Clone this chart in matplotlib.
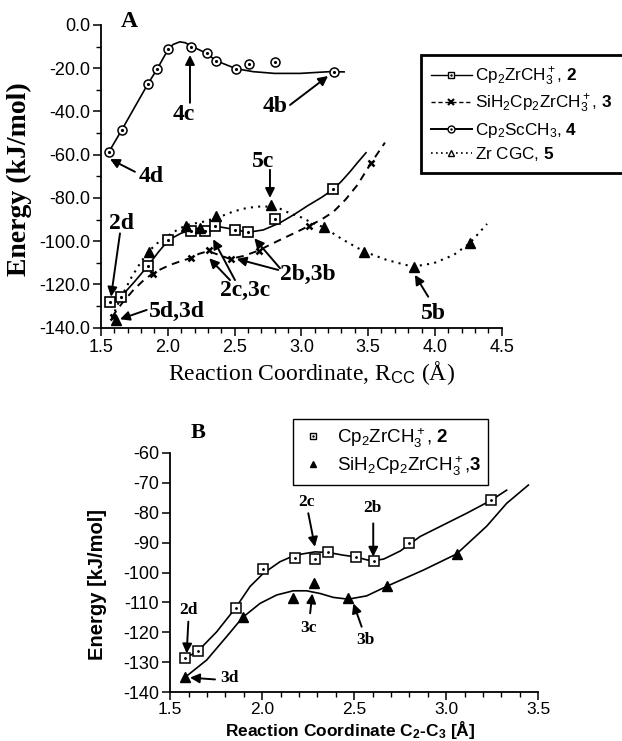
import matplotlib.pyplot as plt
from matplotlib.lines import Line2D
from matplotlib.ticker import MultipleLocator, FormatStrFormatter

plt.rcParams['font.family'] = ['Liberation Sans', 'DejaVu Sans']
plt.rcParams['mathtext.fontset'] = 'custom'
plt.rcParams['mathtext.rm'] = 'Liberation Sans'
plt.rcParams['mathtext.sf'] = 'Liberation Sans'
plt.rcParams['mathtext.it'] = 'Liberation Sans:italic'
plt.rcParams['mathtext.bf'] = 'Liberation Sans:bold'
plt.rcParams['axes.unicode_minus'] = False

SERIF = 'Liberation Serif'

# ---- panel A: computed points ----
sc_x = [1.56, 1.655, 1.85, 1.92, 2.0, 2.175, 2.29, 2.36, 2.51, 2.61, 2.805, 3.246]
sc_y = [-58.6, -48.6, -27.4, -20.4, -11.1, -10.2, -13.1, -16.5, -20.2, -17.9, -17.1, -21.9]

zr_x = [1.57, 1.65, 1.85, 2.005, 2.17, 2.28, 2.355, 2.50, 2.60, 2.80, 3.24]
zr_y = [-128.3, -125.7, -111.5, -99.3, -95.2, -95.2, -93.2, -94.6, -95.9, -89.7, -76.0]

si_x = [1.59, 1.89, 2.17, 2.305, 2.47, 2.68, 3.055, 3.52]
si_y = [-134.9, -115.0, -107.9, -104.1, -108.2, -104.4, -93.0, -64.0]

cgc_x = [1.61, 1.86, 2.14, 2.24, 2.36, 2.77, 3.17, 3.47, 3.84, 4.26]
cgc_y = [-136.4, -104.8, -92.8, -94.0, -88.3, -83.3, -93.3, -104.8, -111.8, -101.0]

# ---- panel A: fitted curves as drawn in the figure ----
sc_fit_x = [1.56, 1.655, 1.754, 1.85, 1.92, 2.0, 2.04, 2.09, 2.13, 2.174, 2.29, 2.36,
            2.51, 2.64, 2.80, 2.99, 3.21, 3.32]
sc_fit_y = [-58.6, -48.6, -37.8, -27.4, -20.4, -11.6, -9.0, -7.8, -8.2, -9.7, -13.1, -16.5,
            -20.2, -21.6, -22.4, -22.4, -21.6, -21.7]

zr_fit_x = [1.57, 1.65, 1.75, 1.85, 1.93, 2.005, 2.1, 2.2, 2.3, 2.4, 2.5, 2.6, 2.715,
            2.84, 2.95, 3.05, 3.15, 3.24, 3.30, 3.364, 3.42, 3.484]
zr_fit_y = [-128.3, -125.7, -118.8, -111.5, -105.0, -99.5, -96.3, -94.3, -93.4, -93.5,
            -94.6, -95.9, -94.8, -91.5, -87.5, -83.5, -79.8, -76.0, -72.3, -67.9, -63.7, -59.1]

si_fit_x = [1.58, 1.66, 1.742, 1.81, 1.88, 1.95, 2.016, 2.09, 2.166, 2.235, 2.303, 2.38,
            2.466, 2.57, 2.677, 2.77, 2.864, 2.96, 3.055, 3.15, 3.24, 3.33, 3.42, 3.52, 3.626]
si_fit_y = [-135.2, -128.5, -122.6, -118.6, -115.2, -112.9, -111.0, -109.4, -107.9, -105.8,
            -104.6, -106.3, -108.2, -106.8, -104.4, -101.5, -98.7, -95.9, -93.0, -90.0,
            -86.4, -80.8, -74.0, -64.0, -54.4]

cgc_fit_x = [1.58, 1.65, 1.73, 1.80, 1.86, 1.92, 1.99, 2.065, 2.14, 2.266, 2.39, 2.49,
             2.565, 2.665, 2.77, 2.84, 2.915, 3.0, 3.064, 3.164, 3.314, 3.47, 3.64, 3.833,
             3.99, 4.14, 4.26, 4.39]
cgc_fit_y = [-135.5, -126.0, -116.5, -109.5, -104.5, -101.0, -97.9, -95.0, -92.5, -91.0,
             -88.7, -86.3, -85.0, -84.0, -84.0, -85.0, -87.1, -89.0, -91.0, -93.5, -99.4,
             -104.8, -108.7, -111.8, -110.2, -106.4, -101.0, -92.0]

# ---- panel B ----
b_zr_x = [1.58, 1.652, 1.855, 2.005, 2.178, 2.286, 2.359, 2.51, 2.607, 2.80, 3.243]
b_zr_y = [-128.6, -126.1, -111.8, -98.8, -95.3, -95.6, -93.3, -94.8, -96.2, -90.0, -75.9]
b_si_x = [1.58, 1.893, 2.168, 2.283, 2.467, 2.68, 3.056]
b_si_y = [-134.8, -115.0, -108.4, -103.6, -108.4, -104.5, -93.8]

b_zr_fit_x = [1.58, 1.652, 1.752, 1.855, 1.933, 2.005, 2.096, 2.178, 2.286, 2.359, 2.44,
              2.51, 2.57, 2.607, 2.66, 2.75, 2.857, 2.984, 3.111, 3.243, 3.328]
b_zr_fit_y = [-128.7, -126.1, -119.8, -111.8, -104.7, -100.3, -96.4, -94.2, -93.1, -93.3,
              -94.2, -94.8, -95.8, -96.0, -95.5, -92.8, -88.0, -84.1, -80.2, -75.9, -72.5]
b_si_fit_x = [1.57, 1.58, 1.698, 1.806, 1.893, 1.988, 2.078, 2.168, 2.241, 2.314, 2.386,
              2.467, 2.567, 2.68, 2.875, 3.056, 3.22, 3.328, 3.446]
b_si_fit_y = [-135.4, -135.0, -129.2, -121.4, -115.0, -110.3, -107.5, -106.1, -106.1,
              -107.0, -108.3, -108.9, -107.8, -104.5, -99.2, -93.8, -84.5, -76.9, -70.8]


def style_axis(ax):
    ax.spines['top'].set_visible(False)
    ax.spines['right'].set_visible(False)
    ax.spines['left'].set_linewidth(1.3)
    ax.spines['bottom'].set_linewidth(1.3)
    ax.tick_params(which='major', direction='out', length=6, width=1.1, pad=2)
    ax.tick_params(which='minor', direction='out', length=3.5, width=1.0)


def arrow(ax, tail, head):
    ax.annotate('', xy=head, xytext=tail,
                arrowprops=dict(arrowstyle='-|>', color='k', lw=1.4,
                                mutation_scale=14, shrinkA=0, shrinkB=0))


fig = plt.figure(figsize=(6.22, 7.41), dpi=100)

# ================= panel A =================
axA = fig.add_axes([0.1624, 0.5578, 0.6442, 0.4085])
style_axis(axA)

axA.plot(sc_fit_x, sc_fit_y, color='k', lw=1.2)
axA.plot(zr_fit_x, zr_fit_y, color='k', lw=1.2)
axA.plot(si_fit_x, si_fit_y, color='k', lw=1.4, ls=(0, (4, 3)))
axA.plot(cgc_fit_x, cgc_fit_y, color='k', lw=1.5, ls=(0, (1, 2.5)))

axA.plot(sc_x, sc_y, ls='none', marker='o', ms=6.5, mfc='white', mec='k', mew=1.1)
axA.plot(sc_x, sc_y, ls='none', marker='.', ms=2.5, color='k')
axA.plot(zr_x, zr_y, ls='none', marker='s', ms=7, mfc='white', mec='k', mew=1.2)
axA.plot(zr_x, zr_y, ls='none', marker='.', ms=2.5, color='k')
axA.plot(si_x, si_y, ls='none', marker='x', ms=5, color='k', mew=1.8)
axA.plot(cgc_x, cgc_y, ls='none', marker='^', ms=7, color='k')

axA.set_xlim(1.5, 4.5)
axA.set_ylim(-140, 0)
axA.xaxis.set_major_locator(MultipleLocator(0.5))
axA.xaxis.set_minor_locator(MultipleLocator(0.1))
axA.yaxis.set_major_locator(MultipleLocator(20))
axA.yaxis.set_minor_locator(MultipleLocator(10))
axA.xaxis.set_major_formatter(FormatStrFormatter('%.1f'))
axA.yaxis.set_major_formatter(FormatStrFormatter('%.1f'))
axA.tick_params(labelsize=13)

axA.set_xlabel(r'Reaction Coordinate, R$_{\mathsf{CC}}$ (Å)', family=SERIF, fontsize=17)
axA.xaxis.set_label_coords(0.524, -0.105)
axA.set_ylabel('Energy (kJ/mol)', family=SERIF, fontsize=20, fontweight='bold')
axA.yaxis.set_label_coords(-0.172, 0.49)

lab = dict(family=SERIF, fontsize=17, fontweight='bold', ha='center', va='center')
axA.text(1.874, -70.3, '4d', **lab)
arrow(axA, (1.754, -67.9), (1.567, -62.0))
axA.text(2.116, -41.6, '4c', **lab)
arrow(axA, (2.166, -36.0), (2.166, -13.9))
axA.text(2.80, -37.8, '4b', **lab)
arrow(axA, (2.915, -37.0), (3.20, -23.6))
axA.text(2.715, -63.2, '5c', **lab)
arrow(axA, (2.765, -67.0), (2.765, -80.0))
axA.text(1.655, -91.7, '2d', **lab)
arrow(axA, (1.642, -96.4), (1.575, -125.7))
axA.text(2.067, -132.6, '5d,3d', **lab)
arrow(axA, (1.842, -131.8), (1.642, -136.1))
axA.text(2.578, -122.6, '2c,3c', **lab)
arrow(axA, (2.466, -118.0), (2.31, -107.9))
arrow(axA, (2.503, -118.0), (2.34, -99.1))
axA.text(3.052, -115.6, '2b,3b', **lab)
arrow(axA, (2.84, -112.5), (2.648, -98.7))
arrow(axA, (2.827, -113.3), (2.516, -108.2))
axA.text(3.99, -133.3, '5b', **lab)
arrow(axA, (3.95, -125.7), (3.85, -115.6))

fig.text(129 / 622, 1 - 21.7 / 741, 'A', family=SERIF, fontsize=17, fontweight='bold',
         ha='center', va='center')

dot = Line2D([], [], ls='none', marker='.', ms=1.5, color='k')
hA = [
    (Line2D([], [], color='k', lw=1.0, marker='s', ms=5, mfc='white', mec='k'), dot),
    Line2D([], [], color='k', lw=1.0, ls=(0, (3, 2)), marker='x', ms=4, mew=1.5),
    (Line2D([], [], color='k', lw=1.4, marker='o', ms=5, mfc='white', mec='k'), dot),
    Line2D([], [], color='k', lw=1.2, ls=(0, (1, 2)), marker='^', ms=5, mfc='white', mec='k'),
]
labA = [r'Cp$_2$ZrCH$_3^+$, $\mathbf{2}$',
        r'SiH$_2$Cp$_2$ZrCH$_3^+$, $\mathbf{3}$',
        r'Cp$_2$ScCH$_3$, $\mathbf{4}$',
        r'Zr CGC, $\mathbf{5}$']
legA = fig.legend(hA, labA, loc='upper left', bbox_to_anchor=(420.7 / 622, 1 - 55 / 741),
                  fontsize=12.3, handlelength=2.4, handletextpad=0.2, labelspacing=0.3,
                  borderpad=0.6, borderaxespad=0, fancybox=False, framealpha=1,
                  edgecolor='k')
legA.get_frame().set_linewidth(2)

# ================= panel B =================
axB = fig.add_axes([0.2738, 0.0657, 0.5916, 0.3233])
style_axis(axB)

axB.plot(b_zr_fit_x, b_zr_fit_y, color='k', lw=1.2)
axB.plot(b_si_fit_x, b_si_fit_y, color='k', lw=1.2)

axB.plot(b_zr_x, b_zr_y, ls='none', marker='s', ms=6.5, mfc='white', mec='k', mew=1.1)
axB.plot(b_zr_x, b_zr_y, ls='none', marker='.', ms=2, color='k')
axB.plot(b_si_x, b_si_y, ls='none', marker='^', ms=6.5, color='k')

axB.set_xlim(1.5, 3.5)
axB.set_ylim(-140, -60)
axB.xaxis.set_major_locator(MultipleLocator(0.5))
axB.xaxis.set_minor_locator(MultipleLocator(0.1))
axB.yaxis.set_major_locator(MultipleLocator(10))
axB.xaxis.set_major_formatter(FormatStrFormatter('%.1f'))
axB.tick_params(axis='y', labelsize=13)
axB.tick_params(axis='x', labelsize=12.5, pad=1)

axB.set_xlabel(r'Reaction Coordinate C$_\mathbf{2}$-C$_\mathbf{3}$ [Å]', fontsize=12.5,
               fontweight='bold')
axB.xaxis.set_label_coords(0.49, -0.113)
axB.set_ylabel('Energy [kJ/mol]', fontsize=14.5, fontweight='bold')
axB.yaxis.set_label_coords(-0.172, 0.448)

labB = dict(family=SERIF, fontsize=12.5, fontweight='bold', ha='center', va='center')
axB.text(1.598, -112.5, '2d', **labB)
arrow(axB, (1.598, -116.4), (1.589, -127.0))
axB.text(1.824, -135.3, '3d', **labB)
arrow(axB, (1.743, -135.7), (1.607, -135.1))
axB.text(2.241, -76.4, '2c', **labB)
arrow(axB, (2.25, -80.2), (2.286, -91.4))
axB.text(2.25, -118.6, '3c', **labB)
arrow(axB, (2.26, -113.6), (2.272, -107.0))
axB.text(2.598, -78.6, '2b', **labB)
arrow(axB, (2.603, -83.6), (2.603, -94.7))
axB.text(2.558, -122.5, '3b', **labB)
arrow(axB, (2.54, -118.1), (2.495, -110.3))

fig.text(198 / 622, 1 - 432.5 / 741, 'B', family=SERIF, fontsize=16, fontweight='bold',
         ha='center', va='center')

hB = [(Line2D([], [], ls='none', marker='s', ms=5, mfc='white', mec='k'), dot),
      Line2D([], [], ls='none', marker='^', ms=5, color='k')]
labB2 = [r'Cp$_2$ZrCH$_3^+$, $\mathbf{2}$', r'SiH$_2$Cp$_2$ZrCH$_3^+$,$\mathbf{3}$']
legB = fig.legend(hB, labB2, loc='upper left', bbox_to_anchor=(293.3 / 622, 1 - 419.3 / 741),
                  fontsize=13.5, handlelength=1.4, handletextpad=0.6, labelspacing=0.25,
                  borderpad=0.35, borderaxespad=0, fancybox=False, framealpha=1,
                  edgecolor='k')
legB.get_frame().set_linewidth(1.0)

fig.savefig('out.png', dpi=100)
